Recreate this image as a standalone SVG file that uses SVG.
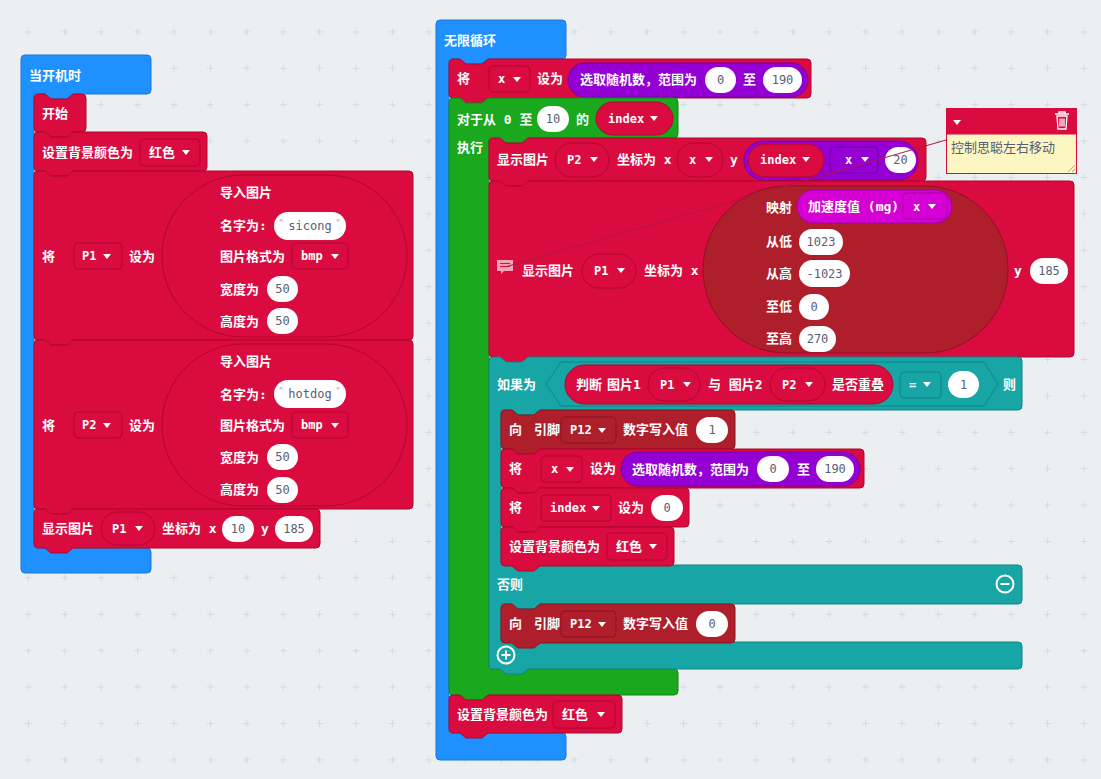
<svg xmlns="http://www.w3.org/2000/svg" xmlns:xlink="http://www.w3.org/1999/xlink" width="1101" height="779" viewBox="0 0 1101 779">
<defs>
<style>
.lbl{font-family:"DejaVu Sans Mono","Noto Sans CJK SC",monospace;font-size:13px;font-weight:bold;fill:#fff}
.dt{font-family:"DejaVu Sans Mono",monospace;font-size:12px;font-weight:bold;fill:#fff}
.num{font-family:"DejaVu Sans Mono",monospace;font-size:12px;fill:#575e75;text-anchor:middle}
.q{font-family:"DejaVu Sans",sans-serif;font-size:9px;fill:#e38a9c}
.cm{font-family:"Noto Sans CJK SC",sans-serif;font-size:13px;fill:#575e75}
.cr{fill:#d90b3f;stroke:#b0072f;stroke-width:1}
.pn{fill:#ae1e2b;stroke:#8a1420;stroke-width:1}
.pu{fill:#9400d3;stroke:#7300a6;stroke-width:1}
.mg{fill:#d400d4;stroke:#a600a6;stroke-width:1}
.gr{fill:#1aa81e;stroke:#138a17;stroke-width:1}
.te{fill:#17a5a6;stroke:#108586;stroke-width:1}
.bl{fill:#1e90ff;stroke:#1877d6;stroke-width:1}
.wp{fill:#fff}
.ic{fill:none;stroke:#fff;stroke-width:2}
</style>
<pattern id="grid" x="10.2" y="13.7" width="36.4" height="36.4" patternUnits="userSpaceOnUse">
<path d="M14.7,18.2 h7 M18.2,14.7 v7" stroke="#d5dadd" stroke-width="1"/>
</pattern>
<polygon id="arr" points="0,0 8,0 4,5" fill="#fff"/>
</defs>
<rect width="1101" height="779" fill="#ebeff1"/>
<rect width="1101" height="779" fill="url(#grid)"/>

<!-- LEFT STACK -->
<g id="on-start">
<path class="bl" d="M21,59 Q21,55 25,55 H147 Q151,55 151,59 V90 Q151,94 147,94 H73 l-6,5 h-16 l-6,-5 H34 V548 H147 Q151,548 151,552 V569 Q151,573 147,573 H25 Q21,573 21,569 Z"/>
<text class="lbl" x="29" y="80">当开机时</text>
</g>
<g id="start">
<path class="cr" d="M34,98 Q34,94 38,94 H45 l6,5 h16 l6,-5 H82 Q86,94 86,98 V128 Q86,132 82,132 H73 l-6,5 h-16 l-6,-5 H38 Q34,132 34,128 Z"/>
<text class="lbl" x="42" y="118">开始</text>
</g>
<g id="set-bg-1">
<path class="cr" d="M34,136 Q34,132 38,132 H45 l6,5 h16 l6,-5 H203 Q207,132 207,136 V167 Q207,171 203,171 H73 l-6,5 h-16 l-6,-5 H38 Q34,171 34,167 Z"/>
<text class="lbl" x="42" y="157">设置背景颜色为</text>
<rect class="cr" x="140" y="139" width="60" height="27" rx="4"/>
<text class="lbl" x="149" y="157">红色</text>
<use xlink:href="#arr" x="182" y="150"/>
</g>
<g id="set-p1">
<path class="cr" d="M34,175 Q34,171 38,171 H45 l6,5 h16 l6,-5 H409 Q413,171 413,175 V336 Q413,340 409,340 H73 l-6,5 h-16 l-6,-5 H38 Q34,340 34,336 Z"/>
<text class="lbl" x="42" y="261">将</text>
<rect class="cr" x="74" y="243" width="48" height="26" rx="4"/>
<text class="dt" x="82" y="260">P1</text>
<use xlink:href="#arr" x="103" y="254"/>
<text class="lbl" x="129" y="261">设为</text>
<rect class="cr" x="162" y="175" width="245" height="162" rx="81"/>
<text class="lbl" x="220" y="197">导入图片</text>
<text class="lbl" x="220" y="230">名字为:</text>
<rect class="wp" x="274" y="212" width="72" height="28" rx="14"/>
<text class="q" x="279" y="226">"</text>
<text class="num" x="310" y="230">sicong</text>
<text class="q" x="336" y="226">"</text>
<text class="lbl" x="220" y="261">图片格式为</text>
<rect class="cr" x="292" y="243" width="56" height="26" rx="4"/>
<text class="dt" x="301" y="260">bmp</text>
<use xlink:href="#arr" x="331" y="254"/>
<text class="lbl" x="220" y="294">宽度为</text>
<rect class="wp" x="267" y="276" width="31" height="26" rx="13"/>
<text class="num" x="282.5" y="293">50</text>
<text class="lbl" x="220" y="326">高度为</text>
<rect class="wp" x="267" y="308" width="31" height="26" rx="13"/>
<text class="num" x="282.5" y="325">50</text>
</g>
<g id="set-p2">
<path class="cr" d="M34,344 Q34,340 38,340 H45 l6,5 h16 l6,-5 H409 Q413,340 413,344 V505 Q413,509 409,509 H73 l-6,5 h-16 l-6,-5 H38 Q34,509 34,505 Z"/>
<text class="lbl" x="42" y="430">将</text>
<rect class="cr" x="74" y="412" width="48" height="26" rx="4"/>
<text class="dt" x="82" y="429">P2</text>
<use xlink:href="#arr" x="103" y="423"/>
<text class="lbl" x="129" y="430">设为</text>
<rect class="cr" x="162" y="344" width="245" height="162" rx="81"/>
<text class="lbl" x="220" y="366">导入图片</text>
<text class="lbl" x="220" y="399">名字为:</text>
<rect class="wp" x="274" y="380" width="72" height="28" rx="14"/>
<text class="q" x="279" y="394">"</text>
<text class="num" x="310" y="398">hotdog</text>
<text class="q" x="336" y="394">"</text>
<text class="lbl" x="220" y="430">图片格式为</text>
<rect class="cr" x="292" y="412" width="56" height="26" rx="4"/>
<text class="dt" x="301" y="429">bmp</text>
<use xlink:href="#arr" x="331" y="423"/>
<text class="lbl" x="220" y="462">宽度为</text>
<rect class="wp" x="267" y="444" width="31" height="26" rx="13"/>
<text class="num" x="282.5" y="461">50</text>
<text class="lbl" x="220" y="494">高度为</text>
<rect class="wp" x="267" y="477" width="31" height="26" rx="13"/>
<text class="num" x="282.5" y="494">50</text>
</g>
<g id="show-p1-start">
<path class="cr" d="M34,513 Q34,509 38,509 H45 l6,5 h16 l6,-5 H316 Q320,509 320,513 V544 Q320,548 316,548 H73 l-6,5 h-16 l-6,-5 H38 Q34,548 34,544 Z"/>
<text class="lbl" x="42" y="533">显示图片</text>
<rect class="cr" x="101" y="512" width="54" height="33" rx="16.5"/>
<text class="dt" x="112" y="533">P1</text>
<use xlink:href="#arr" x="135" y="526"/>
<text class="lbl" x="162" y="533">坐标为 x</text>
<rect class="wp" x="222" y="516" width="32" height="26" rx="13"/>
<text class="num" x="238" y="533">10</text>
<text class="lbl" x="261" y="533">y</text>
<rect class="wp" x="275" y="516" width="38" height="26" rx="13"/>
<text class="num" x="294" y="533">185</text>
</g>

<!-- RIGHT STACK -->
<g id="forever">
<path class="bl" d="M436,24 Q436,20 440,20 H562 Q566,20 566,24 V55 Q566,59 562,59 H488 l-6,5 h-16 l-6,-5 H449 V733 H562 Q566,733 566,737 V756 Q566,760 562,760 H440 Q436,760 436,756 Z"/>
<text class="lbl" x="444" y="45">无限循环</text>
</g>
<g id="set-x-1">
<path class="cr" d="M449,63 Q449,59 453,59 H460 l6,5 h16 l6,-5 H807 Q811,59 811,63 V94 Q811,98 807,98 H488 l-6,5 h-16 l-6,-5 H453 Q449,98 449,94 Z"/>
<text class="lbl" x="457" y="83">将</text>
<rect class="cr" x="489" y="66" width="41" height="26" rx="4"/>
<text class="dt" x="498" y="83">x</text>
<use xlink:href="#arr" x="513" y="77"/>
<text class="lbl" x="537" y="83">设为</text>
<rect class="pu" x="568" y="63" width="240" height="34" rx="17"/>
<text class="lbl" x="580" y="84">选取随机数，范围为</text>
<rect class="wp" x="705" y="67" width="31" height="26" rx="13"/>
<text class="num" x="720.5" y="84">0</text>
<text class="lbl" x="743" y="84">至</text>
<rect class="wp" x="763" y="67" width="39" height="26" rx="13"/>
<text class="num" x="782.5" y="84">190</text>
</g>
<g id="for-loop">
<path class="gr" d="M449,102 Q449,98 453,98 H460 l6,5 h16 l6,-5 H674 Q678,98 678,102 V134 Q678,138 674,138 H528 l-6,5 h-16 l-6,-5 H489 V669 H674 Q678,669 678,673 V691 Q678,695 674,695 H488 l-6,5 h-16 l-6,-5 H453 Q449,695 449,691 Z"/>
<text class="lbl" x="457" y="124">对于从 0 至</text>
<rect class="wp" x="537" y="106" width="32" height="26" rx="13"/>
<text class="num" x="553" y="123">10</text>
<text class="lbl" x="576" y="124">的</text>
<rect class="cr" x="596" y="102" width="77" height="33" rx="16.5"/>
<text class="dt" x="608" y="123">index</text>
<use xlink:href="#arr" x="650" y="116"/>
<text class="lbl" x="457" y="152">执行</text>
</g>
<g id="show-p2">
<path class="cr" d="M489,142 Q489,138 493,138 H500 l6,5 h16 l6,-5 H922 Q926,138 926,142 V177 Q926,181 922,181 H528 l-6,5 h-16 l-6,-5 H493 Q489,181 489,177 Z"/>
<text class="lbl" x="497" y="164">显示图片</text>
<rect class="cr" x="555" y="143" width="54" height="34" rx="17"/>
<text class="dt" x="567" y="164">P2</text>
<use xlink:href="#arr" x="590" y="157"/>
<text class="lbl" x="617" y="164">坐标为 x</text>
<rect class="cr" x="677" y="143" width="46" height="34" rx="17"/>
<text class="dt" x="689" y="164">x</text>
<use xlink:href="#arr" x="705" y="157"/>
<text class="lbl" x="730" y="164">y</text>
<rect class="pu" x="744" y="141" width="174" height="39" rx="19.5"/>
<rect class="cr" x="748" y="144" width="76" height="33" rx="16.5"/>
<text class="dt" x="760" y="164">index</text>
<use xlink:href="#arr" x="802" y="157"/>
<rect class="pu" x="830" y="147" width="48" height="26" rx="4"/>
<text class="dt" x="845" y="164">x</text>
<use xlink:href="#arr" x="861" y="157"/>
<rect class="wp" x="885" y="147" width="31" height="26" rx="13"/>
<text class="num" x="900.5" y="164">20</text>
</g>
<g id="show-p1-map">
<path class="cr" d="M489,185 Q489,181 493,181 H500 l6,5 h16 l6,-5 H1070 Q1074,181 1074,185 V353 Q1074,357 1070,357 H528 l-6,5 h-16 l-6,-5 H493 Q489,357 489,353 Z"/>
<path d="M497,260 h16 v11 h-9 l-3,3 v-3 h-4 z" fill="#f1a3b6"/>
<path d="M500,263.5 h10 M500,266.5 h10" stroke="#d90b3f" stroke-width="1"/>
<text class="lbl" x="522" y="275">显示图片</text>
<rect class="cr" x="582" y="254" width="54" height="34" rx="17"/>
<text class="dt" x="594" y="275">P1</text>
<use xlink:href="#arr" x="617" y="268"/>
<text class="lbl" x="644" y="275">坐标为 x</text>
<rect class="pn" x="703" y="186" width="305" height="167" rx="83.5"/>
<text class="lbl" x="766" y="212">映射</text>
<rect class="mg" x="797" y="190" width="155" height="33" rx="16.5"/>
<text class="lbl" x="808" y="211">加速度值 (mg)</text>
<rect class="mg" x="903" y="193" width="44" height="26" rx="4"/>
<text class="dt" x="913" y="211">x</text>
<use xlink:href="#arr" x="928" y="204"/>
<text class="lbl" x="766" y="246">从低</text>
<rect class="wp" x="799" y="229" width="44" height="26" rx="13"/>
<text class="num" x="821" y="246">1023</text>
<text class="lbl" x="766" y="278">从高</text>
<rect class="wp" x="799" y="260" width="51" height="27" rx="13.5"/>
<text class="num" x="824.5" y="278">-1023</text>
<text class="lbl" x="766" y="311">至低</text>
<rect class="wp" x="799" y="294" width="30" height="26" rx="13"/>
<text class="num" x="814" y="311">0</text>
<text class="lbl" x="766" y="343">至高</text>
<rect class="wp" x="799" y="326" width="37" height="26" rx="13"/>
<text class="num" x="817.5" y="343">270</text>
<text class="lbl" x="1014" y="275">y</text>
<rect class="wp" x="1030" y="258" width="38" height="26" rx="13"/>
<text class="num" x="1049" y="275">185</text>
</g>
<g id="if-else">
<path class="te" d="M489,361 Q489,357 493,357 H500 l6,5 h16 l6,-5 H1018 Q1022,357 1022,361 V406 Q1022,410 1018,410 H540 l-6,5 h-16 l-6,-5 H501 V565 H1018 Q1022,565 1022,569 V600 Q1022,604 1018,604 H540 l-6,5 h-16 l-6,-5 H501 V642 H1018 Q1022,642 1022,646 V665 Q1022,669 1018,669 H528 l-6,5 h-16 l-6,-5 H493 Q489,669 489,665 Z"/>
<text class="lbl" x="497" y="389">如果为</text>
<polygon class="te" points="546,384 561,362 984,362 998,384 984,406 561,406"/>
<rect class="cr" x="565" y="365" width="328" height="39" rx="19.5"/>
<text class="lbl" x="576" y="389">判断</text>
<text class="lbl" x="607" y="389">图片1</text>
<rect class="cr" x="648" y="368" width="52" height="33" rx="16.5"/>
<text class="dt" x="660" y="389">P1</text>
<use xlink:href="#arr" x="683" y="382"/>
<text class="lbl" x="708" y="389">与 图片2</text>
<rect class="cr" x="770" y="368" width="55" height="33" rx="16.5"/>
<text class="dt" x="782" y="389">P2</text>
<use xlink:href="#arr" x="805" y="382"/>
<text class="lbl" x="832" y="389">是否重叠</text>
<rect class="te" x="900" y="372" width="41" height="26" rx="4"/>
<text class="dt" x="909" y="389">=</text>
<use xlink:href="#arr" x="923" y="382"/>
<rect class="wp" x="948" y="371" width="31" height="27" rx="13.5"/>
<text class="num" x="963.5" y="389">1</text>
<text class="lbl" x="1003" y="389">则</text>
<text class="lbl" x="497" y="589">否则</text>
<circle cx="1005" cy="584" r="8.5" class="ic"/>
<path d="M1000.5,584 h9" class="ic" stroke-width="2.5"/>
<circle cx="506" cy="655" r="8.5" class="ic"/>
<path d="M501.5,655 h9 M506,650.5 v9" class="ic" stroke-width="2.5"/>
</g>
<g id="pin-write-1">
<path class="pn" d="M501,414 Q501,410 505,410 H512 l6,5 h16 l6,-5 H731 Q735,410 735,414 V445 Q735,449 731,449 H540 l-6,5 h-16 l-6,-5 H505 Q501,449 501,445 Z"/>
<text class="lbl" x="509" y="434">向</text>
<text class="lbl" x="534" y="434">引脚</text>
<rect class="pn" x="561" y="417" width="55" height="26" rx="4"/>
<text class="dt" x="570" y="434">P12</text>
<use xlink:href="#arr" x="598" y="428"/>
<text class="lbl" x="623" y="434">数字写入值</text>
<rect class="wp" x="696" y="417" width="32" height="26" rx="13"/>
<text class="num" x="712" y="434">1</text>
</g>
<g id="set-x-2">
<path class="cr" d="M501,453 Q501,449 505,449 H512 l6,5 h16 l6,-5 H860 Q864,449 864,453 V484 Q864,488 860,488 H540 l-6,5 h-16 l-6,-5 H505 Q501,488 501,484 Z"/>
<text class="lbl" x="509" y="473">将</text>
<rect class="cr" x="541" y="456" width="41" height="26" rx="4"/>
<text class="dt" x="551" y="473">x</text>
<use xlink:href="#arr" x="566" y="467"/>
<text class="lbl" x="590" y="473">设为</text>
<rect class="pu" x="621" y="452" width="239" height="34" rx="17"/>
<text class="lbl" x="632" y="474">选取随机数，范围为</text>
<rect class="wp" x="757" y="456" width="32" height="26" rx="13"/>
<text class="num" x="773" y="473">0</text>
<text class="lbl" x="797" y="474">至</text>
<rect class="wp" x="816" y="456" width="38" height="26" rx="13"/>
<text class="num" x="835" y="473">190</text>
</g>
<g id="set-index">
<path class="cr" d="M501,492 Q501,488 505,488 H512 l6,5 h16 l6,-5 H685 Q689,488 689,492 V523 Q689,527 685,527 H540 l-6,5 h-16 l-6,-5 H505 Q501,527 501,523 Z"/>
<text class="lbl" x="509" y="512">将</text>
<rect class="cr" x="541" y="495" width="70" height="26" rx="4"/>
<text class="dt" x="550" y="512">index</text>
<use xlink:href="#arr" x="592" y="506"/>
<text class="lbl" x="618" y="512">设为</text>
<rect class="wp" x="651" y="495" width="32" height="26" rx="13"/>
<text class="num" x="667" y="512">0</text>
</g>
<g id="set-bg-2">
<path class="cr" d="M501,531 Q501,527 505,527 H512 l6,5 h16 l6,-5 H670 Q674,527 674,531 V562 Q674,566 670,566 H540 l-6,5 h-16 l-6,-5 H505 Q501,566 501,562 Z"/>
<text class="lbl" x="509" y="551">设置背景颜色为</text>
<rect class="cr" x="607" y="533" width="60" height="27" rx="4"/>
<text class="lbl" x="616" y="551">红色</text>
<use xlink:href="#arr" x="649" y="544"/>
</g>
<g id="pin-write-0">
<path class="pn" d="M501,608 Q501,604 505,604 H512 l6,5 h16 l6,-5 H731 Q735,604 735,608 V639 Q735,643 731,643 H540 l-6,5 h-16 l-6,-5 H505 Q501,643 501,639 Z"/>
<text class="lbl" x="509" y="628">向</text>
<text class="lbl" x="534" y="628">引脚</text>
<rect class="pn" x="561" y="611" width="55" height="26" rx="4"/>
<text class="dt" x="570" y="628">P12</text>
<use xlink:href="#arr" x="598" y="622"/>
<text class="lbl" x="623" y="628">数字写入值</text>
<rect class="wp" x="696" y="611" width="32" height="26" rx="13"/>
<text class="num" x="712" y="628">0</text>
</g>
<g id="set-bg-3">
<path class="cr" d="M449,699 Q449,695 453,695 H460 l6,5 h16 l6,-5 H618 Q622,695 622,699 V729 Q622,733 618,733 H488 l-6,5 h-16 l-6,-5 H453 Q449,733 449,729 Z"/>
<text class="lbl" x="457" y="719">设置背景颜色为</text>
<rect class="cr" x="553" y="701" width="62" height="27" rx="4"/>
<text class="lbl" x="562" y="719">红色</text>
<use xlink:href="#arr" x="597" y="712"/>
</g>

<!-- COMMENT -->
<g id="comment">
<rect x="946.5" y="108.5" width="130" height="65" fill="#fbf6c2" stroke="#d90b3f" stroke-width="1"/>
<rect x="946.5" y="108.5" width="130" height="26" fill="#d90b3f"/>
<use xlink:href="#arr" x="953" y="120"/>
<path d="M1055,114 h14 M1059,114 v-2 h6 v2 M1057,116 h10 l-1,13 h-8 z M1060,118.5 v8 M1062,118.5 v8 M1064,118.5 v8" fill="none" stroke="#fff" stroke-width="1.3"/>
<text class="cm" x="951" y="152">控制思聪左右移动</text>
<path d="M1068,172 l7,-7 M1072,172 l3,-3" stroke="#a9a9a9" stroke-width="1"/>
</g>

<g id="connectors">
<line x1="505" y1="267" x2="946" y2="140" stroke="#b3173f" stroke-width="1"/>
</g>
</svg>
